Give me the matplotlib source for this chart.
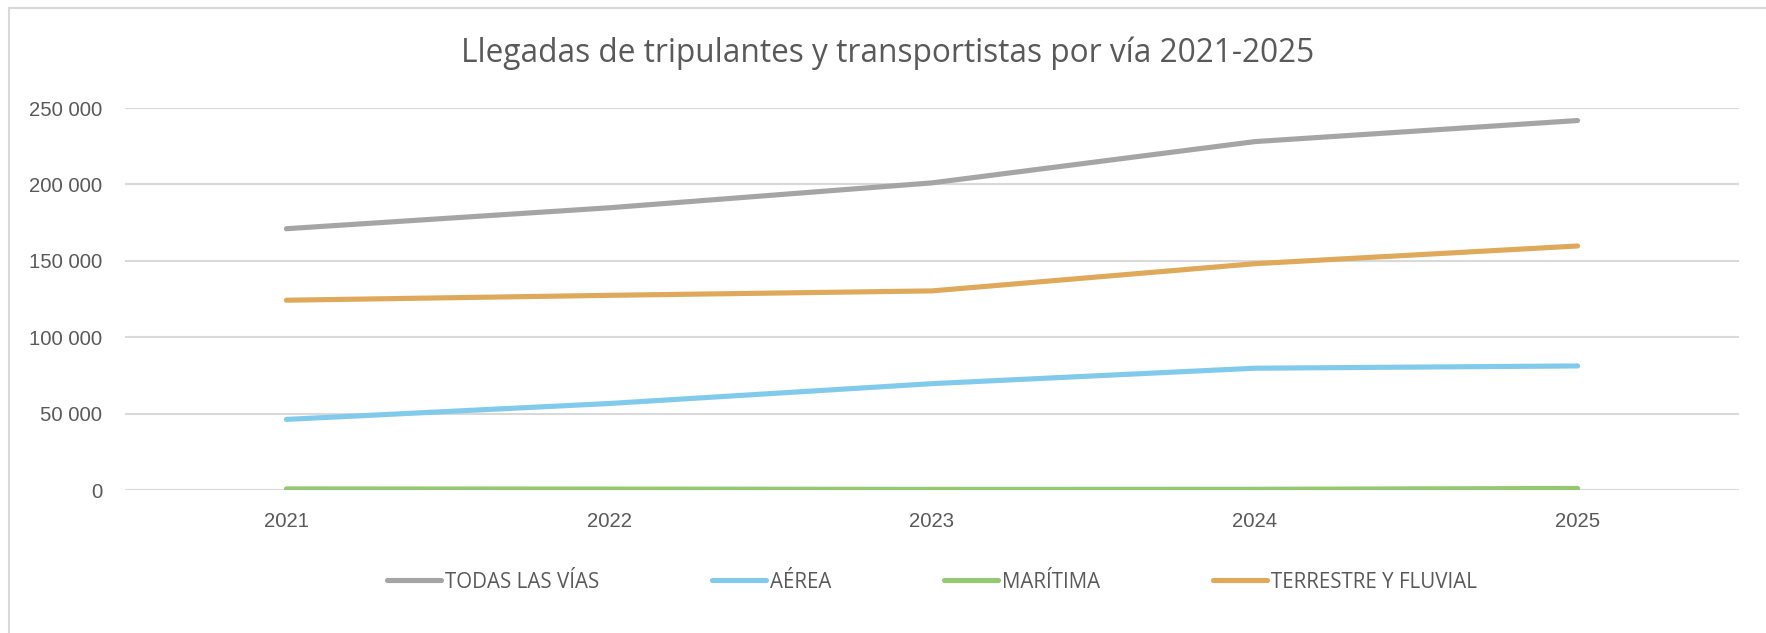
import matplotlib.pyplot as plt
from matplotlib.ticker import FuncFormatter

# datos
anios = ["2021", "2022", "2023", "2024", "2025"]
todas = [171000, 184700, 201000, 228000, 241800]
aerea = [46200, 56600, 69600, 79700, 81200]
maritima = [700, 600, 400, 450, 1000]
terrestre = [124200, 127400, 130300, 148100, 159700]

series = [
    ("TODAS LAS VÍAS", todas, "#a5a5a5"),
    ("AÉREA", aerea, "#82caec"),
    ("MARÍTIMA", maritima, "#95c873"),
    ("TERRESTRE Y FLUVIAL", terrestre, "#dea95a"),
]

fig = plt.figure(figsize=(17.66, 6.33), dpi=100)
W, H = 1766, 633
ax = fig.add_axes([125 / W, 1 - 490 / H, (1739 - 125) / W, (490 - 108) / H])

x = range(len(anios))
for nombre, vals, col in series:
    ax.plot(x, vals, color=col, lw=3.7, label=nombre,
            solid_capstyle="round", solid_joinstyle="round")

ax.set_xlim(-0.5, 4.5)
ax.set_ylim(0, 250000)
ax.set_yticks(range(0, 250001, 50000))
ax.yaxis.set_major_formatter(FuncFormatter(lambda v, p: f"{int(v):,}".replace(",", " ")))
ax.set_xticks(list(x))
ax.set_xticklabels(anios)
ax.grid(axis="y", color="#d9d9d9", lw=1.5)
ax.set_axisbelow(True)
for s in ax.spines.values():
    s.set_visible(False)
ax.tick_params(length=0, labelsize=14.6, labelcolor="#595959")
ax.tick_params(axis="x", pad=16)
ax.tick_params(axis="y", pad=16.5)
for lab in ax.get_xticklabels() + ax.get_yticklabels():
    lab.set_family("Liberation Sans")

fig.text(888 / W, 1 - 53 / H, "Llegadas de tripulantes y transportistas por vía 2021-2025",
         ha="center", va="center", fontsize=22.8, color="#595959", family="Open Sans")

fs = 14.8
leg = fig.legend(loc="center", bbox_to_anchor=(932 / W, 1 - 582 / H), ncol=4, frameon=False,
                 prop={"family": "Open Sans", "size": fs},
                 handlelength=54 / (fs * 100 / 72), handletextpad=4 / (fs * 100 / 72),
                 columnspacing=113 / (fs * 100 / 72))
for t in leg.get_texts():
    t.set_color("#595959")

# borde del área del gráfico
fig.add_artist(plt.Line2D([9 / W, 9 / W], [0, 1 - 8 / H], color="#d9d9d9", lw=1.5))
fig.add_artist(plt.Line2D([9 / W, 1], [1 - 8 / H, 1 - 8 / H], color="#d9d9d9", lw=1.5))

fig.savefig("out.png", dpi=100)
